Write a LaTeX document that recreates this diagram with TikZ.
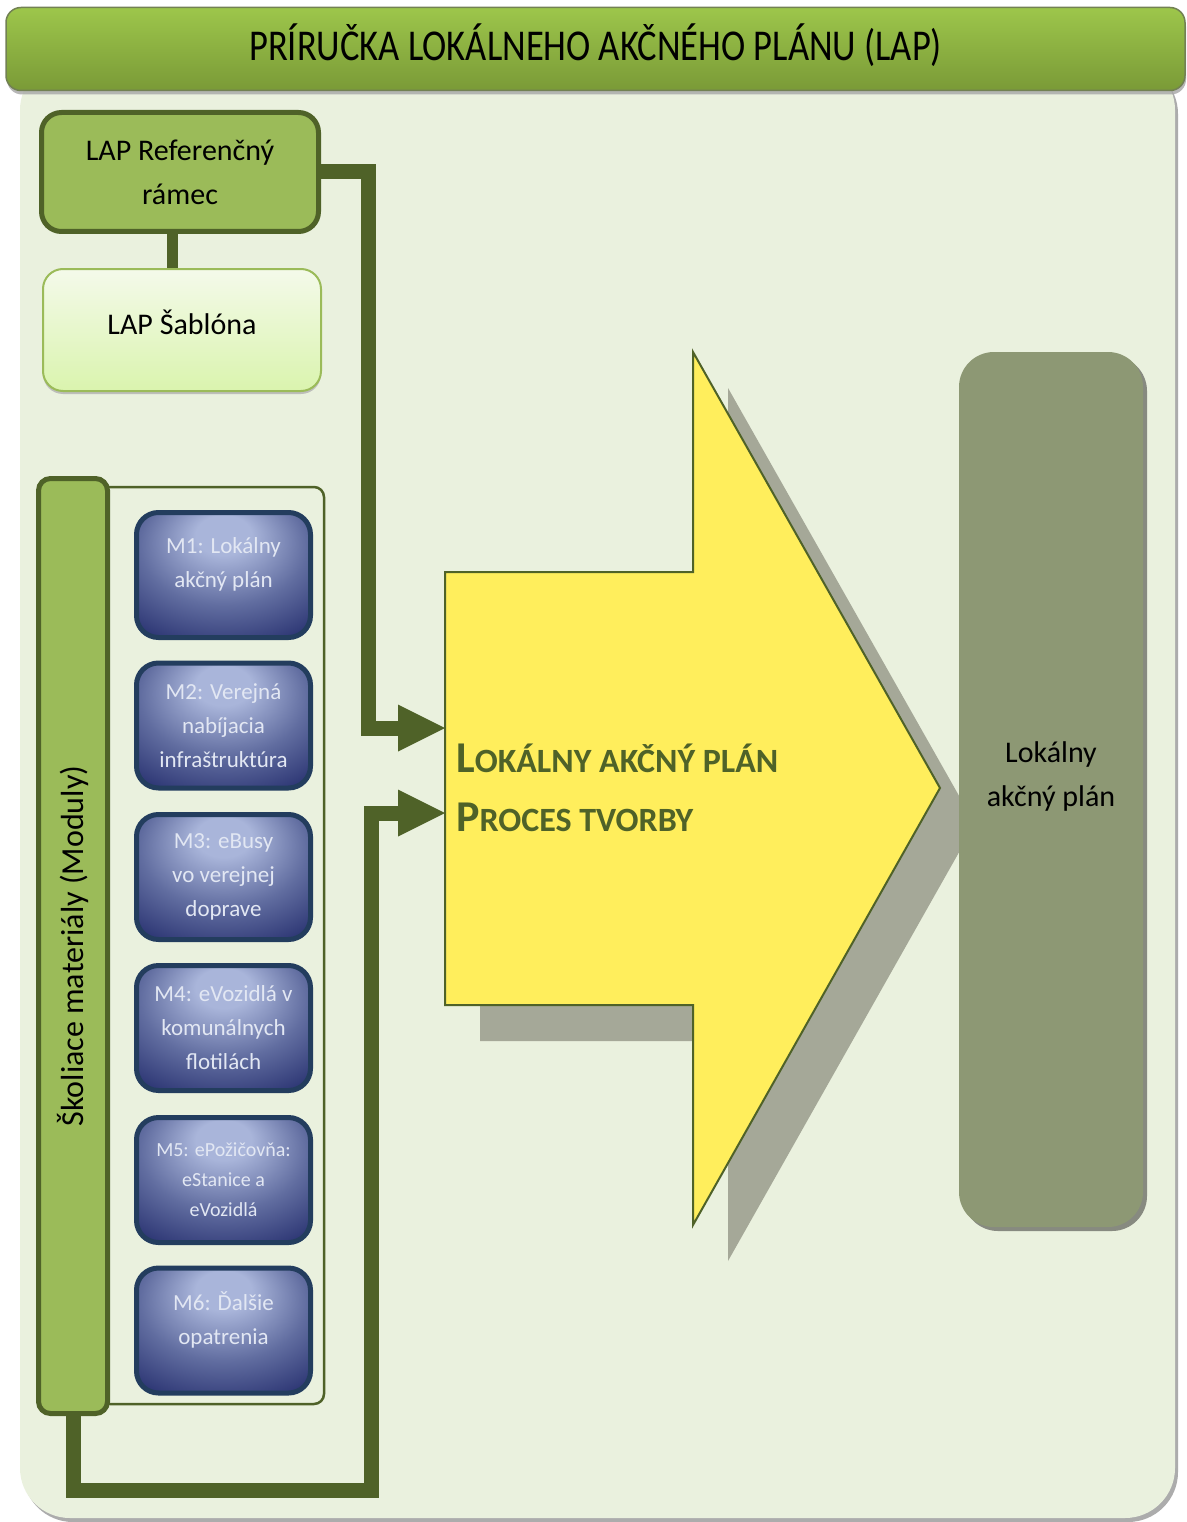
\documentclass[tikz,border=0pt]{standalone}
\usepackage{fontspec}
\setmainfont{Carlito}
\usepackage{graphicx}
\usetikzlibrary{arrows.meta,shadows}
\definecolor{dkgreen}{HTML}{4F6228}
\definecolor{midgreen}{HTML}{9BBB59}
\definecolor{panelbg}{HTML}{EAF1DE}
\definecolor{titletop}{HTML}{9DC64B}
\definecolor{titlebot}{HTML}{7A9A37}
\definecolor{sabtop}{HTML}{F4FAEA}
\definecolor{sabbot}{HTML}{DAF4AE}
\definecolor{modlight}{HTML}{A9B5DA}
\definecolor{modmid}{HTML}{616DA0}
\definecolor{moddark}{HTML}{283170}
\definecolor{modborder}{HTML}{233D5E}
\definecolor{modtext}{HTML}{E2E7F3}
\definecolor{procyellow}{HTML}{FFEE5C}
\definecolor{procshadow}{HTML}{A5A898}
\definecolor{outbox}{HTML}{8D9874}
\definecolor{outshadow}{HTML}{878A80}
\pgfdeclareradialshading{modshade}{\pgfpoint{0bp}{18bp}}{color(0bp)=(modlight); color(8bp)=(modlight); color(24bp)=(modmid); color(40bp)=(moddark); color(70bp)=(moddark)}
\begin{document}
\begin{tikzpicture}[x=1pt,y=-1pt,
  titlebar/.style={draw=dkgreen!80, line width=1.5pt, rounded corners=15pt, top color=titletop, bottom color=titlebot,
    minimum width=1179pt, minimum height=83pt, inner sep=0pt,
    drop shadow={shadow xshift=1pt, shadow yshift=-4pt, fill=gray!70, opacity=0.8}},
  refbox/.style={draw=dkgreen, line width=5pt, rounded corners=20pt, fill=midgreen,
    minimum width=277pt, minimum height=119pt, inner sep=0pt, align=center,
    font=\fontsize{30}{44}\selectfont},
  sabbox/.style={draw=midgreen, line width=2pt, rounded corners=20pt, top color=sabtop, bottom color=sabbot,
    minimum width=278pt, minimum height=122pt, inner sep=0pt, align=center,
    font=\fontsize{30}{44}\selectfont,
    drop shadow={shadow xshift=0pt, shadow yshift=-3pt, fill=gray!60, opacity=0.8}},
  skolbox/.style={draw=dkgreen, line width=5pt, rounded corners=12pt, fill=midgreen,
    minimum width=69pt, minimum height=935pt, inner sep=0pt},
  module/.style={draw=modborder, line width=5pt, rounded corners=22pt, shading=modshade,
    minimum width=174pt, minimum height=125pt, inner sep=0pt, align=center,
    text=modtext, font=\fontsize{23}{34}\selectfont},
  twoline/.style={text depth=24pt},
  outnode/.style={fill=outbox, rounded corners=35pt, minimum width=184pt, minimum height=875pt,
    inner sep=0pt, align=center, font=\fontsize{30}{44}\selectfont, text depth=31pt,
    drop shadow={shadow xshift=4pt, shadow yshift=-4pt, fill=outshadow, opacity=1}},
  conn/.style={draw=dkgreen, line width=15pt, line join=miter,
    -{Triangle[length=47pt,width=47pt,line width=0pt]}},
  link/.style={draw=dkgreen, line width=11pt},
  proctext/.style={anchor=base west, inner sep=0pt, text=dkgreen, font=\bfseries}
]
\useasboundingbox (0,0) rectangle (1186,1522);
\fill[white] (0,0) rectangle (1186,1522);
% background panel
\fill[gray!65, rounded corners=50pt] (23,64) rectangle (1178,1522);
\fill[panelbg, rounded corners=50pt] (20,60) rectangle (1175,1518);
% title bar
\node[titlebar] (title) at (595.5,49) {\raisebox{13pt}{\scalebox{0.83}[1]{\fontsize{44}{44}\selectfont PRÍRUČKA LOKÁLNEHO AKČNÉHO PLÁNU (LAP)}}};
% reference frame and template
\node[refbox] (ref) at (180,172) {LAP Referenčný\\rámec};
\node[sabbox] (sab) at (182,330) {\raisebox{16pt}{LAP Šablóna}};
\draw[link] ([xshift=-8pt]ref.south) -- ([xshift=-8pt]ref.south |- sab.north);
% modules container
\draw[dkgreen, line width=2.5pt, fill=panelbg, rounded corners=10pt] (100,487) rectangle (324,1404);
\node[skolbox] (skol) at (73,946) {};
\node[rotate=90, font=\fontsize{32}{32}\selectfont] (skoltext) at (skol.center) {Školiace materiály (Moduly)};
\node[module,twoline] (m1) at (223.5,575) {M1: Lokálny\\akčný plán};
\node[module] (m2) at (223.5,725.5) {M2: Verejná\\nabíjacia\\infraštruktúra};
\node[module] (m3) at (223.5,877) {M3: eBusy\\vo verejnej\\doprave};
\node[module] (m4) at (223.5,1028) {M4: eVozidlá v\\komunálnych\\flotilách};
\node[module, font=\fontsize{20}{30}\selectfont] (m5) at (223.5,1180) {M5: ePožičovňa:\\eStanice a\\eVozidlá};
\node[module,twoline] (m6) at (223.5,1330.5) {M6: Ďalšie\\opatrenia};
% process arrow
\fill[procshadow] (480,608) -- (728,608) -- (728,388) -- (975,824) -- (728,1261) -- (728,1041) -- (480,1041) -- cycle;
\draw[dkgreen, line width=2pt, fill=procyellow] (445,572) -- (693,572) -- (693,352) -- (940,788) -- (693,1225) -- (693,1005) -- (445,1005) -- cycle;
\coordinate (in1) at (445,728);
\coordinate (in2) at (445,813);
\node[proctext] (p1) at (456,772) {{\fontsize{44}{44}\selectfont L}{\fontsize{34}{34}\selectfont OKÁLNY AKČNÝ PLÁN}};
\node[proctext] (p2) at (456,831) {{\fontsize{44}{44}\selectfont P}{\fontsize{34}{34}\selectfont ROCES TVORBY}};
% connectors
\draw[conn] (ref.east) -| (368,728) -- (in1);
\draw[conn] (skol.south) |- (371,1490) -- (371,813) -- (in2);
% output
\node[outnode] (out) at (1051,789.5) {Lokálny\\akčný plán};
\end{tikzpicture}
\end{document}
